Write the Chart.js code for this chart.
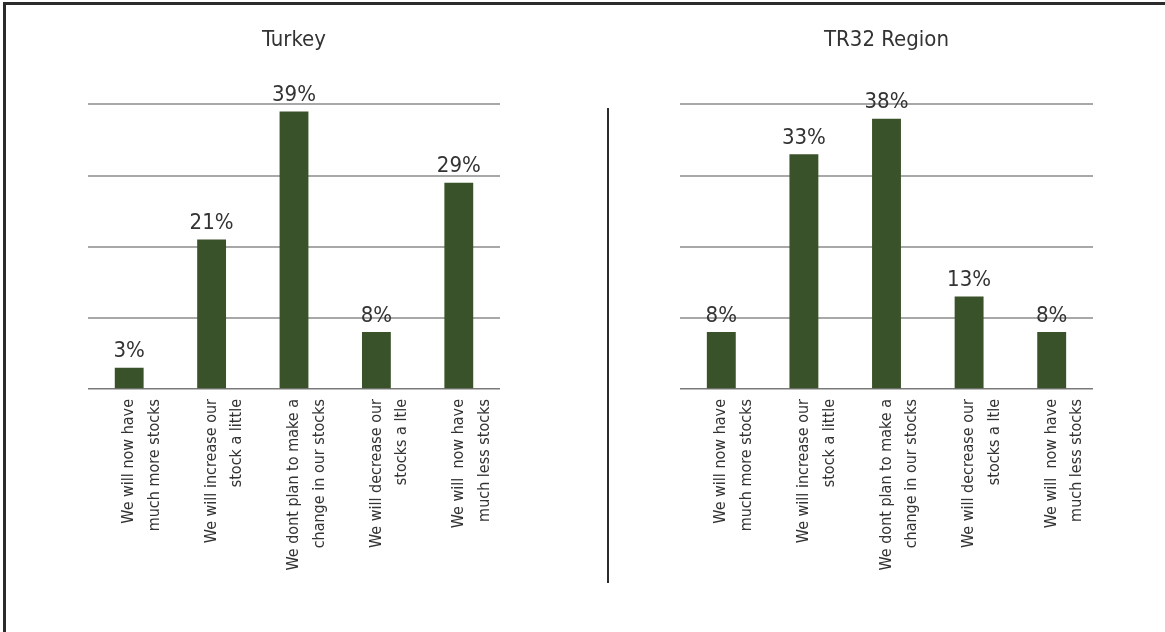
<!DOCTYPE html>
<html>
<head>
<meta charset="utf-8">
<script src="https://cdn.jsdelivr.net/npm/chart.js@4.4.1/dist/chart.umd.min.js"></script>
<style>
  html, body { margin: 0; padding: 0; background: #fff; }
  body { width: 1165px; height: 632px; position: relative; overflow: hidden; }
  #frame { position: absolute; left: 3px; top: 2px; right: 0; bottom: -5px;
           border-left: 3px solid #2b2b2b; border-top: 3px solid #2b2b2b; }
  #divider { position: absolute; left: 607px; top: 108px; width: 2px; height: 475px; background: #2b2b2b; }
  .box { position: absolute; top: 0; height: 632px; }
  #leftBox { left: 0; width: 582px; }
  #rightBox { left: 610px; width: 555px; }
</style>
</head>
<body>
<div id="frame"></div>
<div id="divider"></div>
<div class="box" id="leftBox"><canvas id="turkey"></canvas></div>
<div class="box" id="rightBox"><canvas id="tr32"></canvas></div>
<script>
const categories = [
  ['We will now have', 'much more stocks'],
  ['We will increase our', 'stock a little'],
  ['We dont plan to make a', 'change in our stocks'],
  ['We will decrease our', 'stocks a ltle'],
  ['We will  now have', 'much less stocks']
];
const turkeyValues = [3, 21, 39, 8, 29];
const tr32Values = [8, 33, 38, 13, 8];
const yTicks = [0, 10, 20, 30, 40];

const FONT = "'Liberation Sans Narrow', 'DejaVu Sans Condensed', 'Roboto Condensed', 'Liberation Sans', sans-serif";
const BAR = '#3a5229';
const TEXT = '#333333';

// draws "NN%" above each bar
const valueLabels = {
  id: 'valueLabels',
  afterDatasetsDraw(chart) {
    const ctx = chart.ctx;
    const meta = chart.getDatasetMeta(0);
    const values = chart.data.datasets[0].data;
    ctx.save();
    ctx.font = '22px ' + FONT;
    ctx.fillStyle = TEXT;
    ctx.textAlign = 'center';
    ctx.textBaseline = 'bottom';
    meta.data.forEach((bar, i) => {
      ctx.fillText(values[i] + '%', bar.x, bar.y - 5);
    });
    ctx.restore();
  }
};

function drawPanel(id, title, values, pad) {
  const ctx = document.getElementById(id).getContext('2d');
  return new Chart(ctx, {
    type: 'bar',
    data: {
      labels: categories,
      datasets: [{
        data: values,
        backgroundColor: BAR,
        barPercentage: 0.35,
        categoryPercentage: 1
      }]
    },
    options: {
      responsive: true,
      maintainAspectRatio: false,
      animation: false,
      layout: { padding: { left: pad.left, right: pad.right, top: 0, bottom: 0 } },
      plugins: {
        legend: { display: false },
        tooltip: { enabled: false },
        title: {
          display: true,
          text: title,
          color: TEXT,
          font: { family: FONT, size: 22, weight: 'normal', lineHeight: 1.2 },
          padding: { top: 27, bottom: 51 }
        }
      },
      scales: {
        x: {
          grid: { display: false, drawTicks: false },
          border: { display: false },
          ticks: {
            autoSkip: false,
            minRotation: 90,
            maxRotation: 90,
            padding: 10,
            color: TEXT,
            font: { family: FONT, size: 16, lineHeight: 1.6 }
          },
          afterFit: (scale) => { scale.height = 243; }
        },
        y: {
          min: 0,
          max: 40,
          afterBuildTicks: (scale) => { scale.ticks = yTicks.map(v => ({ value: v })); },
          ticks: { display: false },
          border: { display: false },
          grid: {
            drawTicks: false,
            color: (c) => c.tick && c.tick.value === 0 ? '#7a7a7a' : '#a8a8a8',
            lineWidth: (c) => c.tick && c.tick.value === 0 ? 1.5 : 2
          },
          afterFit: (scale) => { scale.width = 0; }
        }
      }
    },
    plugins: [valueLabels]
  });
}

drawPanel('turkey', 'Turkey', turkeyValues, { left: 88, right: 82 });
drawPanel('tr32', 'TR32 Region', tr32Values, { left: 70, right: 72 });
</script>
</body>
</html>
